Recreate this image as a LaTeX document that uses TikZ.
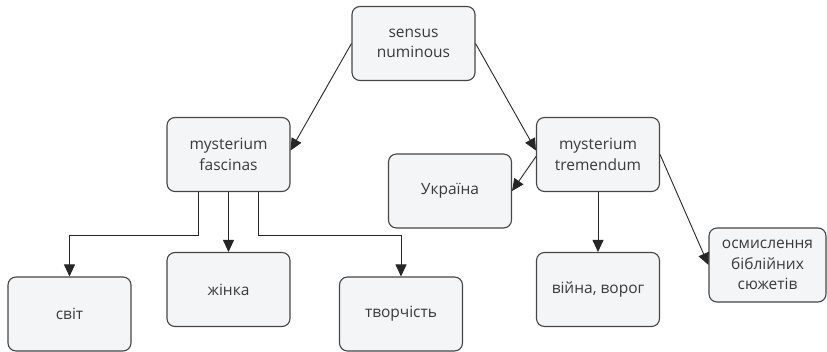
\documentclass[tikz,border=0pt]{standalone}
\usepackage{fontspec}
\setmainfont{Open Sans}
\usetikzlibrary{positioning,
        shapes,
        arrows.meta}
\usepackage{xcolor}
\definecolor{boxfill}{HTML}{F4F5F7}
\definecolor{boxline}{HTML}{454545}
\definecolor{boxtext}{HTML}{3A3A3A}

\begin{document}
\begin{tikzpicture}[x=1pt,y=-1pt,
        box/.style={rectangle,rounded corners=8pt,draw=boxline,line width=1.1pt,fill=boxfill,
            minimum width=123pt,minimum height=74pt,align=center,text=boxtext,
            font=\fontsize{15.5}{20.5}\selectfont},
        arr/.style={-{Triangle[length=12pt,width=11pt]},line width=0.9pt,draw=black!85}]
            \useasboundingbox (0,0) rectangle (827,351);

            \node [box] (sensus) at (413.5,43.5) {sensus\\numinous};
            \node [box] (fascinas) at (228.5,154.5) {mysterium\\fascinas};
            \node [box] (tremendum) at (598,154.5) {mysterium\\tremendum};
            \node [box] (ukraina) at (450,191) {Україна};
            \node [box] (svit) at (69.5,314) {світ};
            \node [box] (zhinka) at (228.5,289.5) {жінка};
            \node [box] (tvorchist) at (401,314) {творчість};
            \node [box] (viina) at (598,289.5) {війна, ворог};
            \node [box,minimum width=117pt] (biblia) at (767.5,265) {осмислення\\біблійних\\сюжетів};

            \draw [arr] (sensus.west) -- ([yshift=4pt]fascinas.east);
            \draw [arr] (sensus.east) -- ([yshift=4pt]tremendum.west);
            \draw [arr] ([yshift=-2pt]tremendum.west) -- (ukraina.east);
            \draw [arr] (tremendum) -- (viina);
            \draw [arr] (tremendum.east) -- (biblia.west);
            \draw [arr] (fascinas) -- (zhinka);
            \draw [arr] ([xshift=-30pt]fascinas.south) -- ++(0,43) -| (svit.north);
            \draw [arr] ([xshift=30pt]fascinas.south) -- ++(0,43) -| (tvorchist.north);
        \end{tikzpicture}
\end{document}
